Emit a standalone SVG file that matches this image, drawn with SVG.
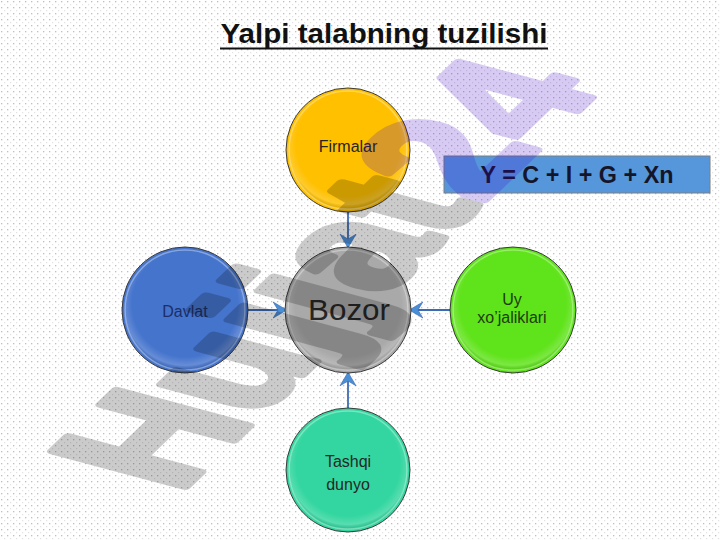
<svg xmlns="http://www.w3.org/2000/svg" width="720" height="540" viewBox="0 0 720 540">
  <defs>
    <pattern id="dots" width="6" height="6" patternUnits="userSpaceOnUse">
      <rect width="6" height="6" fill="#ffffff"/>
      <rect x="1" y="1" width="1.3" height="1.3" fill="#bfbfbf"/>
      <rect x="4" y="4" width="1.2" height="1.2" fill="#e2e2e2"/>
    </pattern>
    <marker id="arr" viewBox="0 0 20 20" refX="19" refY="10" markerWidth="16" markerHeight="18" markerUnits="userSpaceOnUse" orient="auto">
      <polygon points="20,10 3,0 9,10 3,20" fill="#4a8fd6" stroke="#3d6bb3" stroke-width="0.8"/>
    </marker>
    <radialGradient id="gloss" cx="0.5" cy="0.45" r="0.55">
      <stop offset="0.8" stop-color="#ffffff" stop-opacity="0"/>
      <stop offset="0.93" stop-color="#ffffff" stop-opacity="0.18"/>
      <stop offset="1" stop-color="#000000" stop-opacity="0.1"/>
    </radialGradient>
  </defs>
  <style>
    .node { stroke: #3a3a3a; stroke-width: 1; }
    .rim { fill: url(#gloss); stroke: #ffffff; stroke-opacity: 0.35; stroke-width: 1.5; }
    .lbl { font-family: "Liberation Sans", Arial, sans-serif; font-size: 16px; fill: #262626; text-anchor: middle; }
    .conn { stroke: #3d6bb3; stroke-width: 1.8; fill: none; marker-end: url(#arr); }
  </style>

  <rect width="720" height="540" fill="url(#dots)"/>

  <g id="title">
    <text x="384" y="43" font-family="'Liberation Sans', Arial, sans-serif" font-size="28" font-weight="bold" fill="#111" text-anchor="middle" textLength="327" lengthAdjust="spacingAndGlyphs">Yalpi talabning tuzilishi</text>
    <line x1="220" y1="48.5" x2="548" y2="48.5" stroke="#111" stroke-width="2.2"/>
  </g>

  <g id="connectors">
    <line class="conn" x1="348" y1="212" x2="348" y2="247"/>
    <line class="conn" x1="248" y1="310" x2="286" y2="310"/>
    <line class="conn" x1="450" y1="310" x2="410" y2="310"/>
    <line class="conn" x1="348" y1="408" x2="348" y2="373"/>
  </g>

  <g id="firmalar">
    <circle class="node" cx="348" cy="150" r="62" fill="#ffc000"/>
    <circle class="rim" cx="348" cy="150" r="59"/>
    <text class="lbl" x="348" y="152" font-size="15">Firmalar</text>
  </g>

  <g id="bozor">
    <circle class="node" cx="348" cy="310" r="63" fill="#a9a9a9"/>
    <circle class="rim" cx="348" cy="310" r="60"/>
    <text class="lbl" x="349" y="320" style="font-size:30px" fill="#111" textLength="82" lengthAdjust="spacingAndGlyphs">Bozor</text>
  </g>

  <g id="davlat">
    <circle class="node" cx="185" cy="310" r="63" fill="#4574cd"/>
    <circle class="rim" cx="185" cy="310" r="60"/>
    <text class="lbl" x="185" y="317" style="fill:#1c2f66">Davlat</text>
  </g>

  <g id="uy">
    <circle class="node" cx="513" cy="310" r="63" fill="#5fe31a"/>
    <circle class="rim" cx="513" cy="310" r="60"/>
    <text class="lbl" x="512" y="305" style="fill:#1e3d0c">Uy</text>
    <text class="lbl" x="512" y="323" style="fill:#1e3d0c">xo’jaliklari</text>
  </g>

  <g id="tashqi">
    <circle class="node" cx="348" cy="470" r="62" fill="#33d6a0"/>
    <circle class="rim" cx="348" cy="470" r="59"/>
    <text class="lbl" x="348" y="467">Tashqi</text>
    <text class="lbl" x="348" y="490">dunyo</text>
  </g>

  <g id="formula">
    <rect x="444" y="156" width="266" height="37" fill="#5697dc" stroke="#7f7f7f" stroke-width="1"/>
    <text x="577" y="183" font-family="'Liberation Sans', Arial, sans-serif" font-size="24" font-weight="bold" fill="#15152a" text-anchor="middle" textLength="193" lengthAdjust="spacingAndGlyphs">Y = C + I + G + Xn</text>
  </g>

  <g id="watermark" opacity="0.2" font-family="'Liberation Sans', Arial, sans-serif" font-weight="bold" font-size="100" stroke-width="5" stroke-linejoin="round">
    <text transform="matrix(1.09,-1.045,1.932,0.52,178,494)"><tspan fill="#000" stroke="#000">Hujjat</tspan><tspan fill="#3c00cd" stroke="#3c00cd">24</tspan></text>
  </g>
</svg>
